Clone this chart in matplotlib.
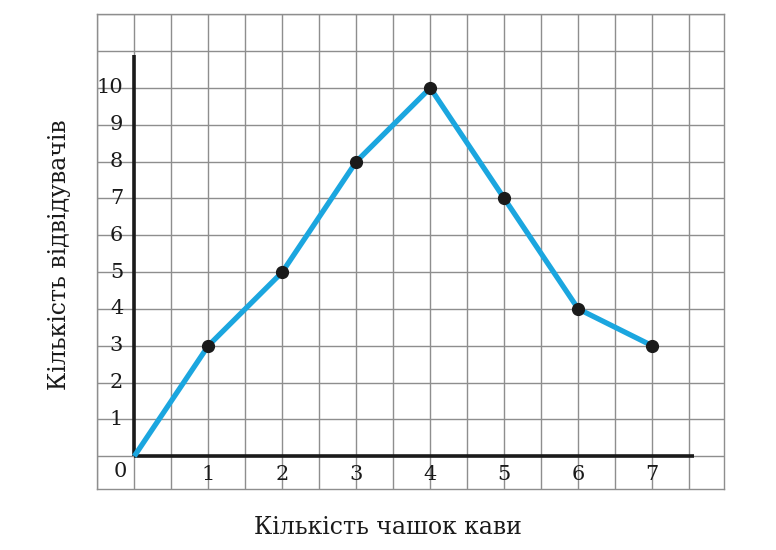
import matplotlib
matplotlib.use('Agg')
import matplotlib.pyplot as plt

# дані графіка
cups = [0, 1, 2, 3, 4, 5, 6, 7]
visitors = [0, 3, 5, 8, 10, 7, 4, 3]
x_ticks = [1, 2, 3, 4, 5, 6, 7]
y_ticks = [1, 2, 3, 4, 5, 6, 7, 8, 9, 10]

plt.rcParams['font.family'] = ['DejaVu Serif']

W, H = 776, 550
fig = plt.figure(figsize=(W / 100, H / 100), dpi=100)

# область сітки в пікселях
gx0, gx1 = 97.3, 724.0
gy0, gy1 = 14.3, 489.0
ax = fig.add_axes([gx0 / W, 1 - gy1 / H, (gx1 - gx0) / W, (gy1 - gy0) / H])
ax.set_xlim(-0.5, 7.97)
ax.set_ylim(-0.89, 12.0)

# сітка: по x кожні пів одиниці, по y кожна одиниця
for gx in [i * 0.5 for i in range(-1, 17)]:
    ax.axvline(gx, color='#8e8e8e', lw=1.0, zorder=0)
for gy in range(0, 13):
    ax.axhline(gy, color='#8e8e8e', lw=1.0, zorder=0)
for s in ax.spines.values():
    s.set_color('#8e8e8e')
    s.set_linewidth(1.0)
ax.set_xticks([])
ax.set_yticks([])

# осі
ax.plot([0, 7.56], [0, 0], color='#1a1a1a', lw=2.6, zorder=3, solid_capstyle='butt')
ax.plot([0, 0], [0, 10.9], color='#1a1a1a', lw=2.6, zorder=3, solid_capstyle='butt')

# лінія і точки
ax.plot(cups, visitors, color='#1ba6df', lw=3.8, zorder=4, solid_capstyle='butt')
ax.plot(cups[1:], visitors[1:], 'o', color='#1a1a1a', ms=8.5, zorder=5)

# підписи поділок
for t in x_ticks:
    ax.text(t, -0.5, str(t), ha='center', va='center', fontsize=15, color='#1a1a1a')
for t in y_ticks:
    ax.text(-0.15, t, str(t), ha='right', va='center', fontsize=15, color='#1a1a1a')
ax.text(-0.19, -0.42, '0', ha='center', va='center', fontsize=15, color='#1a1a1a')

# назви осей
fig.text(388 / W, 1 - 527 / H, 'Кількість чашок кави', ha='center', va='center',
         fontsize=17, color='#1a1a1a')
fig.text(60 / W, 1 - 255 / H, 'Кількість відвідувачів', ha='center', va='center',
         rotation=90, fontsize=17, color='#1a1a1a')

fig.savefig('out.png', dpi=100)
